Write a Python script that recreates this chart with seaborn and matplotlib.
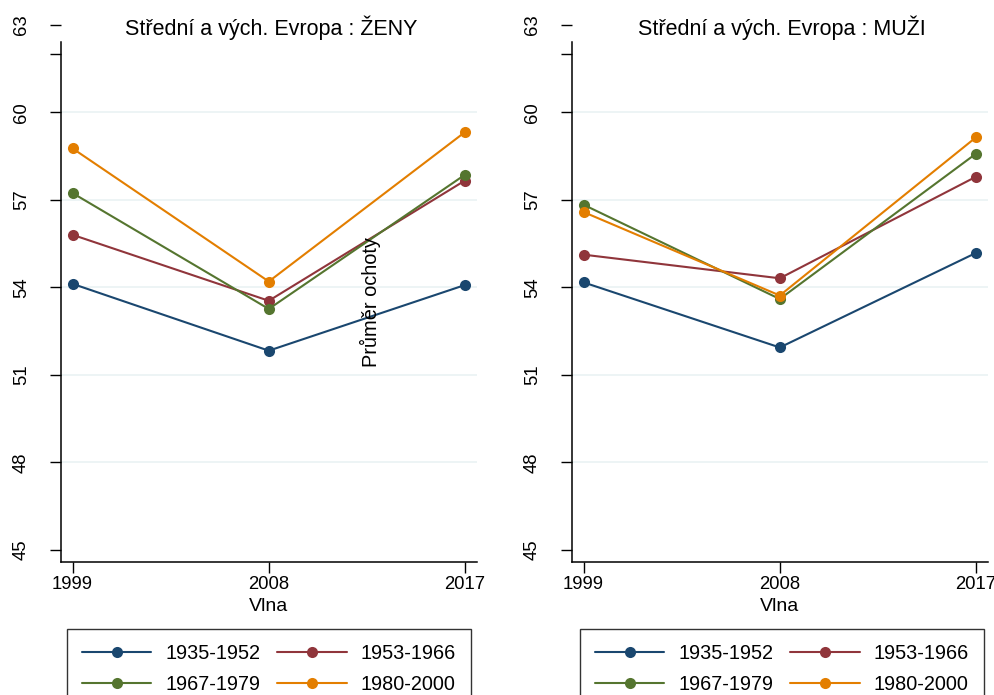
import pandas as pd
import matplotlib
matplotlib.use("Agg")
import matplotlib.pyplot as plt
import seaborn as sns

# Data
waves = [1999, 2008, 2017]
cohorts = ["1935-1952", "1953-1966", "1967-1979", "1980-2000"]

zeny_1935 = [54.12, 51.83, 54.08]
zeny_1953 = [55.80, 53.54, 57.66]
zeny_1967 = [57.23, 53.26, 57.86]
zeny_1980 = [58.76, 54.20, 59.32]

muzi_1935 = [54.17, 51.94, 55.18]
muzi_1953 = [55.12, 54.31, 57.79]
muzi_1967 = [56.83, 53.60, 58.58]
muzi_1980 = [56.58, 53.72, 59.14]

y_ticks = [45, 48, 51, 54, 57, 60, 63]
grid_vals = [48, 51, 54, 57, 60]

colors = ["#1a476f", "#90353b", "#55752f", "#e37e00"]


def long_frame(series):
    rows = []
    for cohort, vals in zip(cohorts, series):
        for w, v in zip(waves, vals):
            rows.append({"Vlna": w, "kohorta": cohort, "prumer": v})
    return pd.DataFrame(rows)


zeny = long_frame([zeny_1935, zeny_1953, zeny_1967, zeny_1980])
muzi = long_frame([muzi_1935, muzi_1953, muzi_1967, muzi_1980])

sns.set_style("white")
plt.rcParams["font.family"] = ["Liberation Sans", "DejaVu Sans"]
plt.rcParams["text.color"] = "black"
plt.rcParams["xtick.color"] = "black"
plt.rcParams["ytick.color"] = "black"
plt.rcParams["axes.labelcolor"] = "black"

fig = plt.figure(figsize=(9.95, 6.95), dpi=100)

# axes placed in pixel terms of the 995x695 canvas
ax_h = (562 - 15.6) / 695
ax_b = 1 - 562 / 695
ax_w = 416 / 995
ax1 = fig.add_axes([61 / 995, ax_b, ax_w, ax_h])
ax2 = fig.add_axes([572 / 995, ax_b, ax_w, ax_h])

panels = [
    (ax1, zeny, "Střední a vých. Evropa : ŽENY", 271),
    (ax2, muzi, "Střední a vých. Evropa : MUŽI", 782),
]

for ax, df, title, tx in panels:
    for g in grid_vals:
        ax.axhline(g, color="#eaf2f3", lw=1.2, zorder=0)
    sns.lineplot(
        data=df,
        x="Vlna",
        y="prumer",
        hue="kohorta",
        palette=colors,
        marker="o",
        markersize=8,
        markeredgewidth=0,
        linewidth=1.5,
        ax=ax,
    )
    handles, labels = ax.get_legend_handles_labels()
    ax.get_legend().remove()
    # row-wise order like the reference legend
    order = [0, 2, 1, 3]
    handles = [handles[i] for i in order]
    labels = [labels[i] for i in order]

    ax.set_xlim(1998.47, 2017.55)
    ax.set_ylim(44.59, 63.31)
    ax.set_xticks(waves)
    ax.set_yticks(y_ticks)
    ax.set_yticks([62], minor=True)
    ax.set_yticklabels([str(t) for t in y_ticks], rotation=90, va="center")
    ax.tick_params(axis="y", which="both", length=8, width=1, pad=14.5,
                   labelsize=13.3, direction="out", left=True, color="black")
    ax.tick_params(axis="x", length=8, width=1, pad=2, labelsize=13.3,
                   direction="out", bottom=True, color="black")
    for s in ["top", "right"]:
        ax.spines[s].set_visible(False)
    ax.spines["left"].set_bounds(44.59, 62.42)
    ax.spines["left"].set_color("black")
    ax.spines["bottom"].set_color("black")
    ax.spines["left"].set_linewidth(1.1)
    ax.spines["bottom"].set_linewidth(1.1)
    ax.set_xlabel("Vlna", fontsize=14, labelpad=4)
    ax.set_ylabel("")
    ax.set_facecolor("white")
    fig.text(tx / 995, 1 - 28 / 695, title, ha="center", va="center", fontsize=15.5)

    leg_x = 67 / 995 if ax is ax1 else 580 / 995
    fig.legend(
        handles,
        labels,
        loc="upper left",
        bbox_to_anchor=(leg_x, 1 - 629 / 695),
        ncol=2,
        fontsize=14.3,
        frameon=True,
        fancybox=False,
        edgecolor="black",
        handlelength=3.5,
        handletextpad=0.7,
        columnspacing=0.85,
        labelspacing=0.6,
        borderpad=0.75,
        borderaxespad=0,
    ).get_frame().set_linewidth(1)

fig.text(370 / 995, 1 - 302 / 695, "Průměr ochoty", rotation=90,
         ha="center", va="center", fontsize=14.4)

fig.savefig("out.png", dpi=100)
